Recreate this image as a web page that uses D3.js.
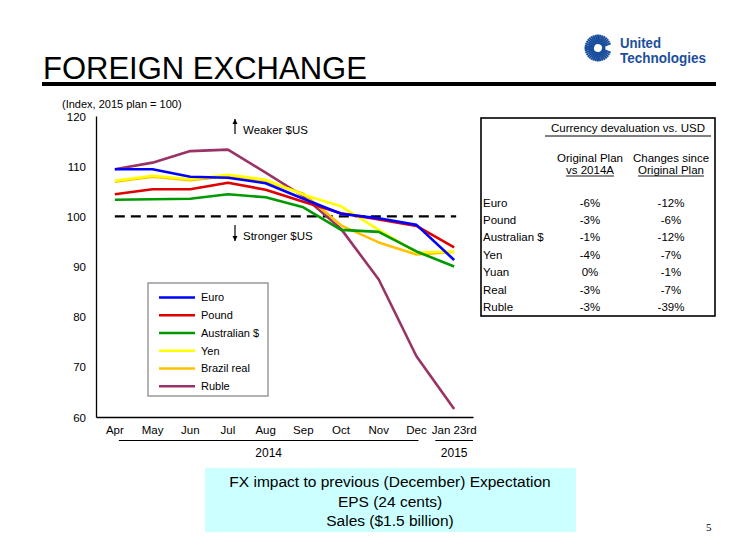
<!DOCTYPE html>
<html><head><meta charset="utf-8">
<script src="https://cdn.jsdelivr.net/npm/d3@7"></script>
<style>
html,body{margin:0;padding:0;background:#fff;}
svg{display:block;font-family:"Liberation Sans",Arial,sans-serif;}
</style></head>
<body><svg id="c" width="752" height="556"></svg>
<script>
const months = ["Apr","May","Jun","Jul","Aug","Sep","Oct","Nov","Dec","Jan 23rd"];
const euro       = [109.4,109.4,107.9,107.7,106.6,103.5,100.5,99.6,98.3,91.3];
const pound      = [104.4,105.4,105.4,106.7,105.3,102.9,100.6,99.4,98.1,93.8];
const ausDollar  = [103.3,103.4,103.5,104.4,103.8,101.8,97.3,96.9,93.0,90.0];
const yen        = [107.1,108.1,107.4,108.3,107.3,104.3,102.0,97.3,92.8,93.0];
const brazilReal = [106.9,107.9,107.2,108.0,107.0,104.5,98.2,94.8,92.4,92.9];
const ruble      = [109.4,110.7,113.0,113.3,108.7,104.0,97.5,87.4,72.1,61.6];
const seriesNames = ["Euro","Pound","Australian $","Yen","Brazil real","Ruble"];
const seriesColors = ["#0000ff","#e00000","#009900","#ffff00","#ffc000","#993366"];
const seriesValues = [euro,pound,ausDollar,yen,brazilReal,ruble];
const yTicks = [60,70,80,90,100,110,120];
const planLevel = 100;
const years = [{label:"2014",from:"Apr",to:"Dec"},{label:"2015",from:"Jan 23rd",to:"Jan 23rd"}];
const tableHeader = "Currency devaluation vs. USD";
const tableCols = [["Original Plan","vs 2014A"],["Changes since","Original Plan"]];
const tableRows = ["Euro","Pound","Australian $","Yen","Yuan","Real","Ruble"];
const colPlan   = ["-6%","-3%","-1%","-4%","0%","-3%","-3%"];
const colChange = ["-12%","-6%","-12%","-7%","-1%","-7%","-39%"];
const boxLines = ["FX impact to previous (December) Expectation","EPS (24 cents)","Sales ($1.5 billion)"];

const svg = d3.select("#c");
const FS = "11.5px";

// Title and rule
svg.append("text").attr("x",43).attr("y",79).attr("font-size","31px").attr("fill","#000").text("FOREIGN EXCHANGE");
svg.append("rect").attr("x",42).attr("y",82).attr("width",674).attr("height",4).attr("fill","#000");

// Logo
const logo = svg.append("g").attr("transform","translate(598,48)");
const rayAngles = d3.range(0,360,10).filter(a => !(a > 70 && a < 110));
logo.selectAll("line").data(rayAngles).join("line")
  .attr("x1",a=>6*Math.sin(a*Math.PI/180)).attr("y1",a=>-6*Math.cos(a*Math.PI/180))
  .attr("x2",a=>13.5*Math.sin(a*Math.PI/180)).attr("y2",a=>-13.5*Math.cos(a*Math.PI/180))
  .attr("stroke","#1b4f9e").attr("stroke-width",2);
logo.append("path").attr("d",d3.arc()({innerRadius:4,outerRadius:7.5,startAngle:0.3*Math.PI+0.35,endAngle:2.7*Math.PI-0.35})).attr("fill","#1b4f9e");
svg.append("text").attr("x",620).attr("y",48).attr("font-weight","bold").attr("font-size","14px")
  .attr("textLength",41).attr("lengthAdjust","spacingAndGlyphs").attr("fill","#1b4f9e").text("United");
svg.append("text").attr("x",620).attr("y",62.5).attr("font-weight","bold").attr("font-size","14px")
  .attr("textLength",86).attr("lengthAdjust","spacingAndGlyphs").attr("fill","#1b4f9e").text("Technologies");

// Scales
const x = d3.scaleBand().domain(months).range([96,473]);
const xc = m => x(m) + x.bandwidth()/2;
const y = d3.scaleLinear().domain([60,120]).range([417,116]);

svg.append("text").attr("x",62).attr("y",108).attr("font-size","11px").text("(Index, 2015 plan = 100)");

// Axes
const yAxis = svg.append("g").attr("transform","translate(96,0)")
  .call(d3.axisLeft(y).tickValues(yTicks).tickSizeInner(0).tickSizeOuter(0).tickPadding(10));
const xAxis = svg.append("g").attr("transform","translate(0,417)")
  .call(d3.axisBottom(x).tickSizeInner(0).tickSizeOuter(0).tickPadding(9));
[yAxis,xAxis].forEach(a=>{
  a.selectAll("text").attr("font-size",FS).attr("font-family","'Liberation Sans',Arial,sans-serif").attr("fill","#000");
  a.select(".domain").attr("stroke","#000").attr("stroke-width",1.3);
});
yAxis.selectAll("text").attr("dy","0.35em");

// Year brackets
years.forEach(yr=>{
  const x1 = yr.from===yr.to ? x(yr.from) : xc(yr.from)+4;
  const x2 = yr.from===yr.to ? x(yr.to)+x.bandwidth() : xc(yr.to)+2;
  svg.append("line").attr("x1",x1).attr("x2",x2).attr("y1",440.5).attr("y2",440.5).attr("stroke","#000").attr("stroke-width",1.2);
  svg.append("text").attr("x",(x1+x2)/2).attr("y",457).attr("text-anchor","middle").attr("font-size","12px").text(yr.label);
});

// Plan line
svg.append("line").attr("x1",xc(months[0])).attr("x2",xc(months[months.length-1])+2)
  .attr("y1",y(planLevel)).attr("y2",y(planLevel))
  .attr("stroke","#000").attr("stroke-width",2.3).attr("stroke-dasharray","10,6");

// Series lines (Euro drawn last, on top)
const line = d3.line().x((d,i)=>xc(months[i])).y(d=>y(d));
const order = [5,4,3,2,1,0];
svg.append("g").selectAll("path").data(order).join("path")
  .attr("d",i=>line(seriesValues[i])).attr("fill","none")
  .attr("stroke",i=>seriesColors[i]).attr("stroke-width",2.6).attr("stroke-linejoin","round");

// Arrows
function arrow(xp,yTip,yEnd){
  svg.append("line").attr("x1",xp).attr("x2",xp).attr("y1",yEnd).attr("y2",yTip).attr("stroke","#000").attr("stroke-width",1.2);
  const dir = yEnd>yTip?1:-1;
  svg.append("path").attr("d",`M${xp},${yTip} L${xp-2.5},${yTip+dir*5} L${xp+2.5},${yTip+dir*5}Z`).attr("fill","#000");
}
arrow(235,119,134);
svg.append("text").attr("x",243).attr("y",134).attr("font-size",FS).text("Weaker $US");
arrow(235,241,225);
svg.append("text").attr("x",243).attr("y",240).attr("font-size",FS).text("Stronger $US");

// Legend
svg.append("rect").attr("x",148).attr("y",283).attr("width",120).attr("height",113).attr("fill","#fff").attr("stroke","#999").attr("stroke-width",1.5);
const lg = svg.append("g").selectAll("g").data(seriesNames).join("g")
  .attr("transform",(d,i)=>`translate(0,${297.5+i*17.75})`);
lg.append("line").attr("x1",159).attr("x2",195).attr("stroke",(d,i)=>seriesColors[i]).attr("stroke-width",2.6);
lg.append("text").attr("x",201).attr("dy","0.35em").attr("font-size","11px").text(d=>d);

// Table
svg.append("rect").attr("x",481).attr("y",118).attr("width",234).attr("height",198).attr("fill","#fff").attr("stroke","#000").attr("stroke-width",1.6);
svg.append("text").attr("x",628).attr("y",132).attr("text-anchor","middle").attr("font-size",FS).text(tableHeader);
svg.append("line").attr("x1",545).attr("x2",711).attr("y1",136).attr("y2",136).attr("stroke","#000").attr("stroke-width",1);
const colX = [590,671];
tableCols.forEach((c,ci)=>{
  c.forEach((t,li)=>{
    const tx = svg.append("text").attr("x",colX[ci]).attr("y",162+li*11.5).attr("text-anchor","middle").attr("font-size",FS).text(t);
    if(li===c.length-1){
      const w = tx.node().getComputedTextLength();
      svg.append("line").attr("x1",colX[ci]-w/2).attr("x2",colX[ci]+w/2).attr("y1",176).attr("y2",176).attr("stroke","#000").attr("stroke-width",0.9);
    }
  });
});
tableRows.forEach((r,i)=>{
  const yy = 206.5+i*17.4;
  svg.append("text").attr("x",483).attr("y",yy).attr("font-size",FS).text(r);
  svg.append("text").attr("x",colX[0]).attr("y",yy).attr("text-anchor","middle").attr("font-size",FS).text(colPlan[i]);
  svg.append("text").attr("x",colX[1]).attr("y",yy).attr("text-anchor","middle").attr("font-size",FS).text(colChange[i]);
});

// Bottom box
svg.append("rect").attr("x",205).attr("y",468).attr("width",371).attr("height",64).attr("fill","#ccffff");
boxLines.forEach((t,i)=>{
  svg.append("text").attr("x",390).attr("y",487+i*19.5).attr("text-anchor","middle").attr("font-size","15.5px").text(t);
});
svg.append("text").attr("x",706).attr("y",531).attr("font-family","'Liberation Serif','Times New Roman',serif").attr("font-size","11px").text("5");
</script></body></html>
